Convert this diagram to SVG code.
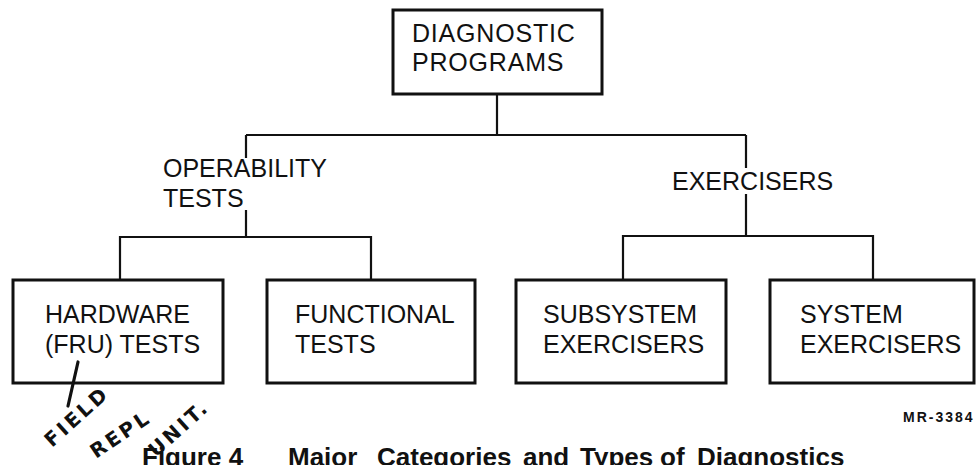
<svg xmlns="http://www.w3.org/2000/svg" width="976" height="465" viewBox="0 0 976 465">
  <style>
    .box { fill: #ffffff; stroke: #111111; stroke-width: 3; }
    .wire { fill: none; stroke: #111111; stroke-width: 2.2; }
    .lbl { font-family: "Liberation Sans", Arial, sans-serif; font-size: 25px; fill: #111111; }
    .cap { font-family: "Liberation Sans", Arial, sans-serif; font-size: 26px; font-weight: bold; fill: #111111; }
    .tag { font-family: "Liberation Sans", Arial, sans-serif; font-size: 14px; font-weight: bold; fill: #111111; letter-spacing: 2px; }
    .hand { font-family: "DejaVu Sans", sans-serif; font-size: 20px; font-weight: bold; fill: #111111; letter-spacing: 3px; }
  </style>

  <rect width="976" height="465" fill="#ffffff"/>

  <!-- connectors -->
  <g id="connectors">
    <path class="wire" d="M497 94 V135 M246 135 H746"/>
    <!-- operability branch, broken around its label -->
    <path class="wire" d="M246 135 V158 M246 210 V237 M120 280 V237 H371 V280"/>
    <!-- exercisers branch, broken around its label -->
    <path class="wire" d="M746 135 V168 M746 194 V236 M623 280 V236 H873 V280"/>
  </g>

  <!-- root -->
  <g id="diagnostic-programs">
    <rect class="box" x="393" y="10" width="209" height="84"/>
    <text class="lbl" x="412" y="42" letter-spacing="0.8">DIAGNOSTIC</text>
    <text class="lbl" x="412" y="71" letter-spacing="0.8">PROGRAMS</text>
  </g>

  <!-- category labels -->
  <g id="operability-tests">
    <text class="lbl" x="163" y="177">OPERABILITY</text>
    <text class="lbl" x="163" y="207">TESTS</text>
  </g>
  <g id="exercisers">
    <text class="lbl" x="672" y="190">EXERCISERS</text>
  </g>

  <!-- leaves -->
  <g id="hardware-tests">
    <rect class="box" x="13" y="280" width="210" height="103"/>
    <text class="lbl" x="45" y="323">HARDWARE</text>
    <text class="lbl" x="45" y="353">(FRU) TESTS</text>
  </g>
  <g id="functional-tests">
    <rect class="box" x="267" y="280" width="208" height="103"/>
    <text class="lbl" x="295" y="323">FUNCTIONAL</text>
    <text class="lbl" x="295" y="353">TESTS</text>
  </g>
  <g id="subsystem-exercisers">
    <rect class="box" x="516" y="280" width="210" height="103"/>
    <text class="lbl" x="543" y="323">SUBSYSTEM</text>
    <text class="lbl" x="543" y="353">EXERCISERS</text>
  </g>
  <g id="system-exercisers">
    <rect class="box" x="770" y="280" width="204" height="103"/>
    <text class="lbl" x="800" y="323">SYSTEM</text>
    <text class="lbl" x="800" y="353">EXERCISERS</text>
  </g>

  <!-- handwritten note under the FRU box -->
  <g id="handwritten-note">
    <path d="M78 362 L68 406" fill="none" stroke="#111111" stroke-width="3.2" stroke-linecap="round"/>
    <text class="hand" transform="translate(52 448) rotate(-42)">FIELD</text>
    <text class="hand" transform="translate(96 459) rotate(-34)">REPL</text>
    <text class="hand" transform="translate(156 458) rotate(-42)">UNIT.</text>
  </g>

  <!-- drawing number and caption -->
  <text class="tag" x="903" y="422">MR-3384</text>
  <text class="cap" y="466">
    <tspan x="142">Figure 4</tspan>
    <tspan x="288">Major</tspan>
    <tspan x="377">Categories</tspan>
    <tspan x="523">and</tspan>
    <tspan x="580">Types</tspan>
    <tspan x="660">of</tspan>
    <tspan x="697">Diagnostics</tspan>
  </text>
</svg>
